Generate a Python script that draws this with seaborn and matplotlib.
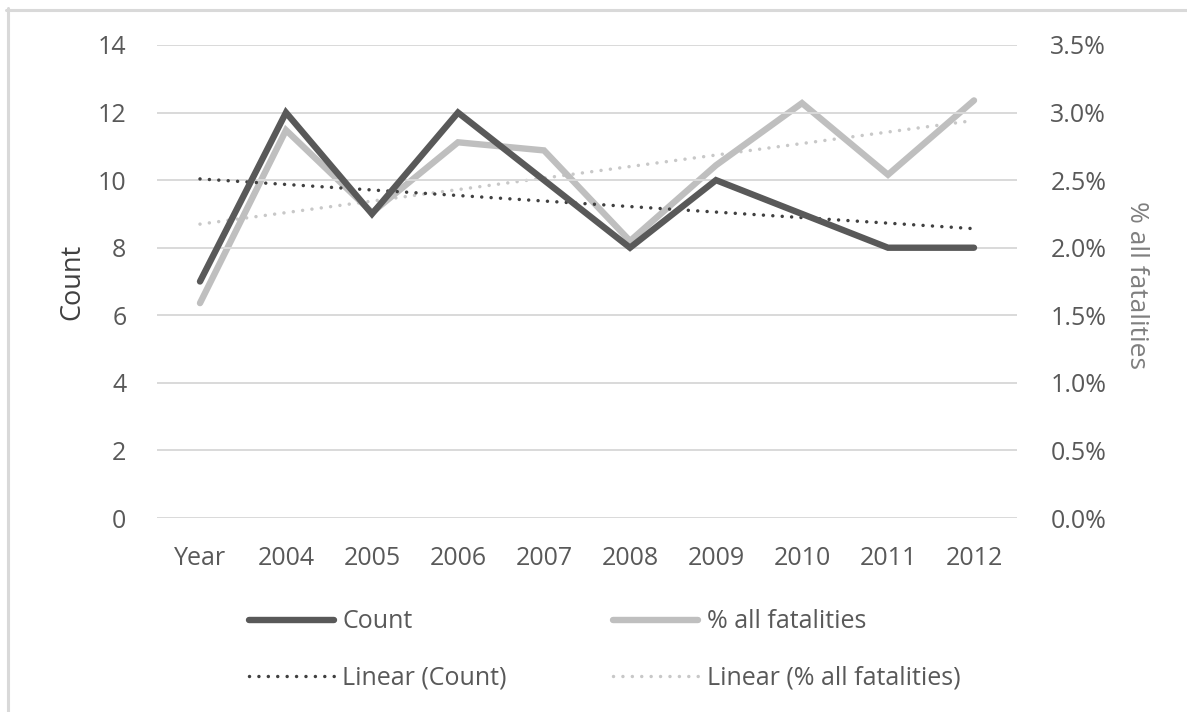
import numpy as np
import pandas as pd
import matplotlib
matplotlib.use("Agg")
import matplotlib.pyplot as plt
from matplotlib.lines import Line2D
import seaborn as sns

# ---- data ----
categories = ["Year", "2004", "2005", "2006", "2007", "2008", "2009", "2010", "2011", "2012"]
count_values = [7, 12, 9, 12, 10, 8, 10, 9, 8, 8]
pct_values = [0.0159, 0.0287, 0.0226, 0.0278, 0.0272, 0.0205, 0.0261, 0.0307, 0.0254, 0.0309]
left_ticks = [0, 2, 4, 6, 8, 10, 12, 14]
right_ticks = [0.0, 0.005, 0.010, 0.015, 0.020, 0.025, 0.030, 0.035]

sns.set_theme(style="white")
plt.rcParams["font.family"] = ["Open Sans", "DejaVu Sans"]

idx = np.arange(len(categories))
df = pd.DataFrame({"idx": idx, "count": count_values, "pct": pct_values})
cfit = np.polyfit(idx, count_values, 1)
pfit = np.polyfit(idx, pct_values, 1)
df["count_trend"] = np.polyval(cfit, idx)
df["pct_trend"] = np.polyval(pfit, idx)

fig = plt.figure(figsize=(11.87, 7.12), dpi=100)
ax = fig.add_axes([157 / 1187, 1 - 518 / 712, 860 / 1187, (518 - 45) / 712])
ax2 = ax.twinx()

DARK = "#595959"
LIGHT = "#bfbfbf"
TICK = "#595959"
DOT_DARK = "#404040"
DOT_LIGHT = "#c8c8c8"

dot = (0, (0.01, 2.7))
dot_lw = 2.5

sns.lineplot(data=df, x="idx", y="count", ax=ax, color=DARK, lw=4.6, zorder=4,
             solid_capstyle="round", solid_joinstyle="miter")
sns.lineplot(data=df, x="idx", y="count_trend", ax=ax, color=DOT_DARK, lw=dot_lw,
             linestyle=dot, dash_capstyle="round", zorder=3)
sns.lineplot(data=df, x="idx", y="pct", ax=ax2, color=LIGHT, lw=4.6, zorder=4,
             solid_capstyle="round", solid_joinstyle="miter")
sns.lineplot(data=df, x="idx", y="pct_trend", ax=ax2, color=DOT_LIGHT, lw=dot_lw,
             linestyle=dot, dash_capstyle="round", zorder=3)

ax.set_zorder(ax2.get_zorder() + 1)
ax.patch.set_visible(False)

ax.set_xlim(-0.5, len(categories) - 0.5)
ax.set_ylim(0, 14)
ax2.set_ylim(0, 0.035)
ax.set_yticks(left_ticks)
ax.set_yticklabels([str(t) for t in left_ticks])
ax2.set_yticks(right_ticks)
ax2.set_yticklabels([f"{t*100:.1f}%" for t in right_ticks])
ax.set_xticks(idx)
ax.set_xticklabels(categories)

ax.yaxis.grid(True, color="#d9d9d9", lw=1.4)
ax.xaxis.grid(False)
ax2.grid(False)
for a in (ax, ax2):
    for s in a.spines.values():
        s.set_visible(False)
    a.tick_params(length=0, labelsize=18, labelcolor=TICK)
ax.tick_params(axis="y", pad=22)
ax2.tick_params(axis="y", pad=24)
ax.tick_params(axis="x", pad=20)

ax.set_xlabel("")
ax.set_ylabel("")
ax2.set_ylabel("")
fig.text(72 / 1187, 1 - 282 / 712, "Count", rotation=90, ha="center", va="center",
         fontsize=19.5, color="#404040")
fig.text(1137 / 1187, 1 - 285 / 712, "% all fatalities", rotation=270, ha="center",
         va="center", fontsize=19, color="#7f7f7f")

handles = [
    Line2D([], [], color=DARK, lw=4.6, solid_capstyle="round"),
    Line2D([], [], color=DOT_DARK, lw=dot_lw, linestyle=dot, dash_capstyle="round"),
    Line2D([], [], color=LIGHT, lw=4.6, solid_capstyle="round"),
    Line2D([], [], color=DOT_LIGHT, lw=dot_lw, linestyle=dot, dash_capstyle="round"),
]
labels = ["Count", "Linear (Count)", "% all fatalities", "Linear (% all fatalities)"]
leg = fig.legend(handles, labels, ncol=2, loc="upper left",
                 bbox_to_anchor=(236 / 1187, 1 - 597 / 712),
                 frameon=False, fontsize=18, handlelength=3.4, handletextpad=0.35,
                 columnspacing=4.25, labelspacing=1.25, borderpad=0)
for t in leg.get_texts():
    t.set_color(TICK)

# outer border (top and left edges visible)
fig.add_artist(Line2D([6 / 1187, 1.0], [1 - 9.5 / 712, 1 - 9.5 / 712],
                      transform=fig.transFigure, color="#d9d9d9", lw=2.2))
fig.add_artist(Line2D([7.5 / 1187, 7.5 / 1187], [1 - 8 / 712, 0.0],
                      transform=fig.transFigure, color="#d9d9d9", lw=2.2))

fig.savefig("out.png", dpi=100)
